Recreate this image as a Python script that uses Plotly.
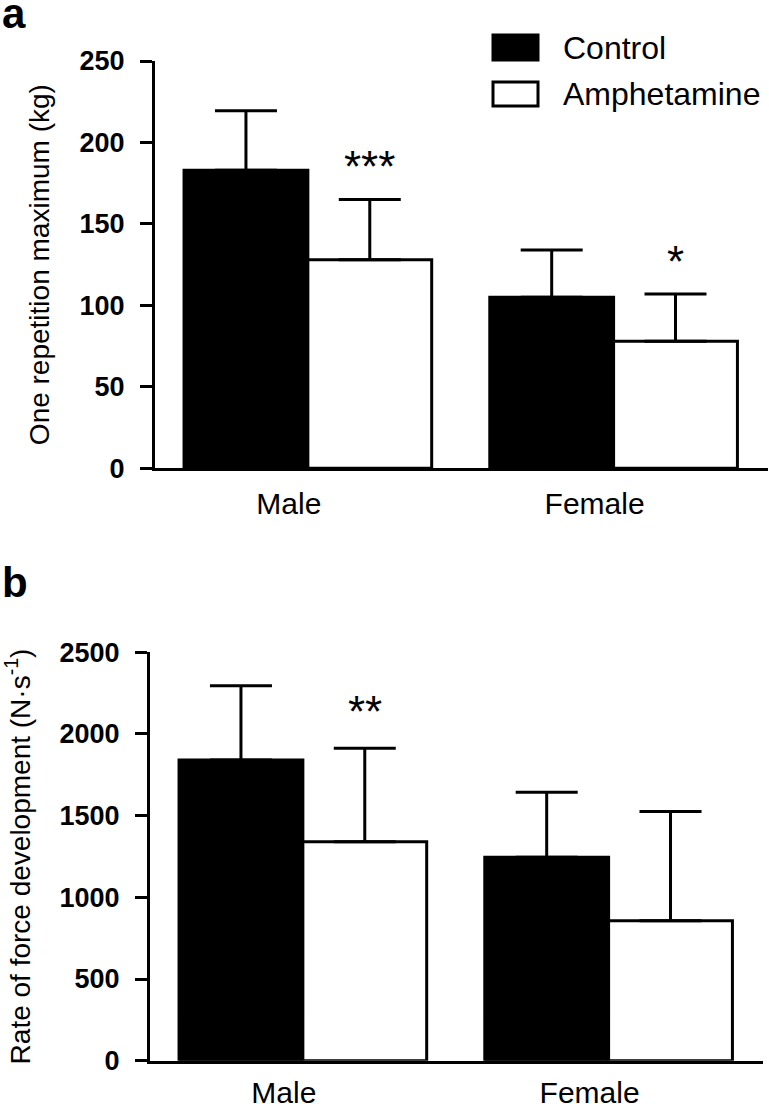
import plotly.graph_objects as go

# ---- data ----
categories = ["Male", "Female"]
series_names = ["Control", "Amphetamine"]
series_colors = ["black", "white"]

orm_control = [183, 105]
orm_control_err = [36.5, 29]
orm_amph = [128, 78]
orm_amph_err = [37, 29]
orm_amph_sig = ["***", "*"]

rfd_control = [1840, 1245]
rfd_control_err = [455, 398]
rfd_amph = [1341, 857]
rfd_amph_err = [572, 668]
rfd_amph_sig = ["**", ""]

y_ticks_a = [0, 50, 100, 150, 200, 250]
y_ticks_b = [0, 500, 1000, 1500, 2000, 2500]

FONT = "Arial, Liberation Sans, sans-serif"
BARGAP = 0.19
W, H = 769, 1104

fig = go.Figure()


def add_panel(ctrl, ctrl_err, amph, amph_err, xa, ya):
    for name, color, vals, errs in [(series_names[0], series_colors[0], ctrl, ctrl_err),
                                    (series_names[1], series_colors[1], amph, amph_err)]:
        fig.add_trace(go.Bar(
            x=categories, y=vals, name=name, xaxis=xa, yaxis=ya,
            marker=dict(color=color, line=dict(color="black", width=3)),
            error_y=dict(type="data", symmetric=False, array=errs,
                         arrayminus=[0] * len(vals), thickness=3, width=31, color="black"),
            showlegend=False, offsetgroup=name))


add_panel(orm_control, orm_control_err, orm_amph, orm_amph_err, "x", "y")
add_panel(rfd_control, rfd_control_err, rfd_amph, rfd_amph_err, "x2", "y2")

# significance marks above the amphetamine bars
bar_w = (1 - BARGAP) / 2
annotations = []
for sigs, vals, errs, xr, yr, ys in [(orm_amph_sig, orm_amph, orm_amph_err, "x", "y", 6),
                                     (rfd_amph_sig, rfd_amph, rfd_amph_err, "x2", "y2", 10)]:
    for i, s in enumerate(sigs):
        if s:
            annotations.append(dict(
                x=i + bar_w / 2, y=vals[i] + errs[i], xref=xr, yref=yr,
                text=s, showarrow=False, yanchor="bottom", yshift=ys,
                font=dict(family=FONT, size=44, color="black")))

# panel letters
annotations.append(dict(x=0, y=1, xref="paper", yref="paper", xanchor="left", yanchor="top",
                        text="<b>a</b>", showarrow=False, yshift=12,
                        font=dict(family=FONT, size=42, color="black")))
annotations.append(dict(x=0, y=1 - 557 / H, xref="paper", yref="paper", xanchor="left",
                        yanchor="top", text="<b>b</b>", showarrow=False,
                        font=dict(family=FONT, size=42, color="black")))

# legend (keys drawn as boxes, labels as text)
shapes = []
key_rows = [(35, 60), (82, 106)]
for (top, bot), name, color in zip(key_rows, series_names, series_colors):
    shapes.append(dict(type="rect", xref="paper", yref="paper",
                       x0=493 / W, x1=538 / W, y0=1 - bot / H, y1=1 - top / H,
                       fillcolor=color, line=dict(color="black", width=3)))
    annotations.append(dict(x=561 / W, y=1 - (top + bot) / 2 / H, xref="paper", yref="paper",
                            xanchor="left", yanchor="middle", text=name, showarrow=False,
                            font=dict(family=FONT, size=32, color="black")))

xaxis_common = dict(
    type="category", range=[-0.5, 1.505], showline=True, linecolor="black", linewidth=3,
    ticks="", showgrid=False, zeroline=False, fixedrange=True, automargin=False,
    tickfont=dict(family=FONT, size=30, color="black"),
    ticklabelshift=-19)

yaxis_common = dict(
    showline=True, linecolor="black", linewidth=3, ticks="outside", ticklen=12,
    tickwidth=3, tickcolor="black", showgrid=False, zeroline=False, automargin=False,
    tickfont=dict(family=FONT, size=27, color="black", weight="bold"),
    ticklabelstandoff=10)

fig.update_layout(
    width=W, height=H, margin=dict(l=0, r=0, t=0, b=0, autoexpand=False),
    paper_bgcolor="white", plot_bgcolor="white", showlegend=False,
    barmode="group", bargap=BARGAP, bargroupgap=0,
    xaxis=dict(domain=[155 / W, 768 / W], anchor="y", ticklabelstandoff=7, **xaxis_common),
    yaxis=dict(domain=[1 - 468.3 / H, 1 - 61 / H], anchor="x", range=[0, 250],
               tickvals=y_ticks_a,
               title=dict(text="One repetition maximum (kg)",
                          font=dict(family=FONT, size=28, color="black"), standoff=22),
               **yaxis_common),
    xaxis2=dict(domain=[150 / W, 763 / W], anchor="y2", ticklabelstandoff=3, **xaxis_common),
    yaxis2=dict(domain=[1 - 1060.7 / H, 1 - 652.3 / H], anchor="x2", range=[0, 2500],
                tickvals=y_ticks_b,
                title=dict(text="Rate of force development (N\u00b7s<sup>-1</sup>)",
                           font=dict(family=FONT, size=28, color="black"), standoff=22),
                **yaxis_common),
    shapes=shapes,
    annotations=annotations,
)

fig.write_html("out.html")
